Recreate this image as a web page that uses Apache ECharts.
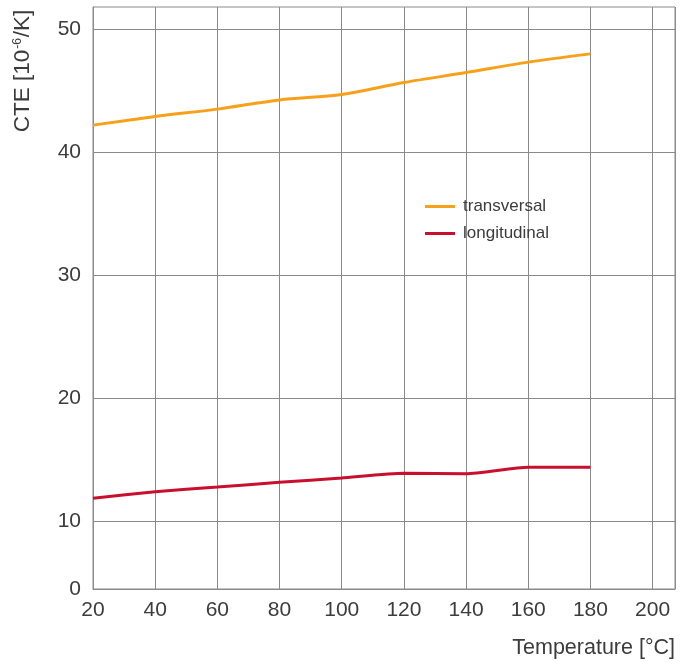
<!DOCTYPE html>
<html><head><meta charset="utf-8">
<script src="https://cdn.jsdelivr.net/npm/echarts@6/dist/echarts.min.js"></script>
<style>html,body{margin:0;padding:0;background:#fff}#c{width:692px;height:662px}</style>
</head><body><div id="c"></div>
<script>
const temperatures = [20, 40, 60, 80, 100, 120, 140, 160, 180];
const transversal = [42.2, 42.9, 43.5, 44.25, 44.68, 45.66, 46.47, 47.32, 47.99];
const longitudinal = [11.87, 12.41, 12.79, 13.17, 13.52, 13.9, 13.87, 14.39, 14.39];
const yLabelValues = [4.5, 10, 20, 30, 40, 50];
const yGridValues = [10, 20, 30, 40, 50];
const seriesNames = ['transversal', 'longitudinal'];

const FONT = 'Liberation Sans, Arial, sans-serif';
const TXT = '#3c3c3c';
const GRID = '#8a8a8a';

const chart = echarts.init(document.getElementById('c'), null, {renderer: 'canvas'});
chart.setOption({
  animation: false,
  backgroundColor: '#fff',
  grid: {left: 93, right: 17, top: 7, bottom: 73, show: true, borderColor: GRID, borderWidth: 1},
  legend: {
    orient: 'vertical', left: 420, top: 192,
    icon: 'rect',
    itemWidth: 30, itemHeight: 3, itemGap: 8,
    textStyle: {fontFamily: FONT, fontSize: 17, lineHeight: 19, color: TXT, padding: [0, 0, 0, 3]},
    data: seriesNames
  },
  xAxis: {
    type: 'value', min: 20, max: 207.2, interval: 20,
    axisLine: {show: true, lineStyle: {color: GRID}},
    axisTick: {show: false},
    splitLine: {show: true, lineStyle: {color: GRID, width: 1}},
    axisLabel: {
      fontFamily: FONT, fontSize: 21, color: TXT, margin: 11,
      formatter: v => (v % 20 === 0 ? String(v) : '')
    }
  },
  yAxis: {
    type: 'value', min: 4.5, max: 51.8,
    axisLine: {show: true, lineStyle: {color: GRID}},
    axisTick: {show: false, customValues: yGridValues},
    splitLine: {show: true, lineStyle: {color: GRID, width: 1}},
    axisLabel: {
      customValues: yLabelValues,
      fontFamily: FONT, fontSize: 21, color: TXT, margin: 12,
      formatter: v => (v === 4.5 ? '0' : String(v))
    }
  },
  graphic: [
    {
      type: 'text', x: 23, y: 71, rotation: Math.PI / 2,
      style: {
        text: 'CTE [10{sup|-6}/K]',
        fontFamily: FONT, fontSize: 22.5, fill: TXT,
        align: 'center', verticalAlign: 'middle',
        rich: {sup: {fontFamily: FONT, fontSize: 12, fill: TXT, verticalAlign: 'top', padding: [0, 1, 10, 1]}}
      }
    },
    {
      type: 'text', x: 675, y: 648,
      style: {
        text: 'Temperature [°C]',
        fontFamily: FONT, fontSize: 21.5, fill: TXT,
        align: 'right', verticalAlign: 'middle'
      }
    }
  ],
  series: [
    {
      name: seriesNames[0], type: 'line', symbol: 'none', smooth: 0.3,
      lineStyle: {color: '#F7A11A', width: 3}, itemStyle: {color: '#F7A11A'},
      data: temperatures.map((t, i) => [t, transversal[i]])
    },
    {
      name: seriesNames[1], type: 'line', symbol: 'none', smooth: 0.2,
      lineStyle: {color: '#C8102E', width: 3}, itemStyle: {color: '#C8102E'},
      data: temperatures.map((t, i) => [t, longitudinal[i]])
    }
  ]
});
</script>
</body></html>
